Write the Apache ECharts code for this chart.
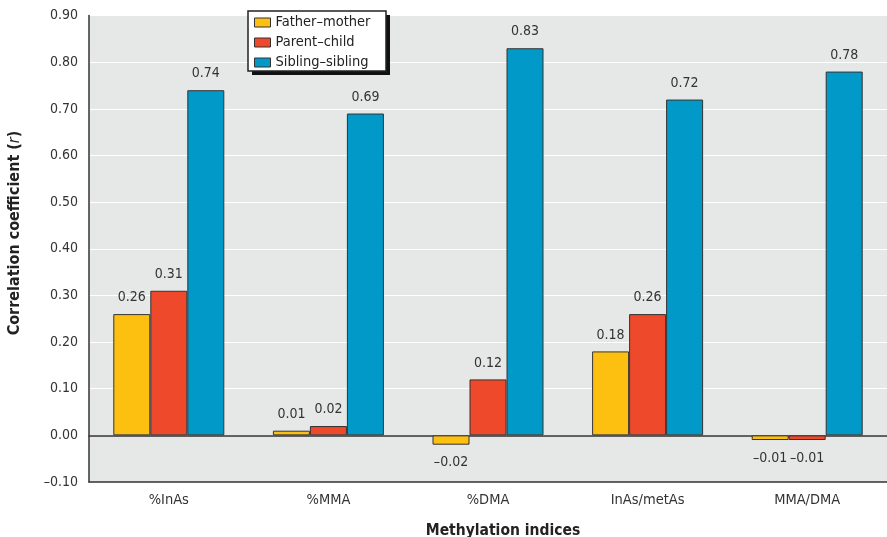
<!DOCTYPE html>
<html>
<head>
<meta charset="utf-8">
<script src="https://cdn.jsdelivr.net/npm/echarts@6/dist/echarts.min.js"></script>
<style>
html,body{margin:0;padding:0;background:#fff;}
#chart{width:887px;height:537px;}
</style>
</head>
<body>
<div id="chart"></div>
<script>
const categories = ['%InAs', '%MMA', '%DMA', 'InAs/metAs', 'MMA/DMA'];
const seriesNames = ['Father\u2013mother', 'Parent\u2013child', 'Sibling\u2013sibling'];
const fatherMother = [0.26, 0.01, -0.02, 0.18, -0.01];
const parentChild = [0.31, 0.02, 0.12, 0.26, -0.01];
const siblingSibling = [0.74, 0.69, 0.83, 0.72, 0.78];
const yTicks = { min: -0.1, max: 0.9, interval: 0.1 };
const yTitle = 'Correlation coefficient';
const xTitle = 'Methylation indices';

const colors = ['#FDC010', '#EE492A', '#0099C8'];
const FONT = '"DejaVu Sans Condensed", "Liberation Sans Narrow", sans-serif';
const fmt = v => (v < 0 ? '\u2013' + Math.abs(v).toFixed(2) : v.toFixed(2));

function buildData(arr) {
  return arr.map(v => ({
    value: v,
    label: v < 0 ? { position: 'bottom', distance: 11 } : { position: 'top', distance: 9.5 }
  }));
}

const chart = echarts.init(document.getElementById('chart'));
const allSeries = [fatherMother, parentChild, siblingSibling].map((arr, i) => ({
  name: seriesNames[i],
  type: 'bar',
  xAxisIndex: 0,
  yAxisIndex: 0,
  barWidth: 37,
  barGap: '0%',
  itemStyle: { color: colors[i], borderColor: '#333', borderWidth: 1 },
  label: {
    show: true,
    color: '#333',
    fontFamily: FONT,
    fontSize: 14,
    formatter: p => fmt(p.value)
  },
  data: buildData(arr)
}));

chart.setOption({
  backgroundColor: '#ffffff',
  animation: false,
  textStyle: { fontFamily: FONT },
  grid: {
    left: 89, right: -12, top: 15.6, bottom: 55,
    show: true, backgroundColor: '#E6E7E7', borderWidth: 0
  },
  legend: {
    orient: 'vertical',
    left: 248, top: 11,
    padding: [4, 17, 3, 6],
    itemGap: 5,
    itemWidth: 16, itemHeight: 9,
    icon: 'rect',
    backgroundColor: 'transparent',
    borderWidth: 0,
    textStyle: { fontFamily: FONT, fontSize: 14.5, color: '#222' },
    itemStyle: { borderColor: '#333', borderWidth: 1 },
    z: 10,
    data: seriesNames
  },
  xAxis: [
    {
      type: 'category',
      data: categories,
      position: 'bottom',
      axisLine: { show: true, onZero: false, lineStyle: { color: '#333', width: 1.5 } },
      axisTick: { show: false },
      axisLabel: { margin: 11, fontSize: 14.5, color: '#333', fontFamily: FONT },
      splitLine: { show: false }
    },
    {
      type: 'category',
      data: categories,
      position: 'top',
      axisLine: { show: true, onZero: true, lineStyle: { color: '#333', width: 1.5 } },
      axisTick: { show: false },
      axisLabel: { show: false },
      splitLine: { show: false }
    }
  ],
  yAxis: {
    type: 'value',
    min: yTicks.min, max: yTicks.max, interval: yTicks.interval,
    axisLine: { show: true, lineStyle: { color: '#333', width: 1.5 } },
    axisTick: { show: false },
    axisLabel: { margin: 11, fontSize: 14, color: '#333', fontFamily: FONT, formatter: v => fmt(v) },
    splitLine: { show: true, lineStyle: { color: '#ffffff', width: 1 } }
  },
  graphic: [
    {
      type: 'rect',
      z: 5,
      shape: { x: 252, y: 15, width: 138, height: 60 },
      style: { fill: '#111' }
    },
    {
      type: 'rect',
      z: 6,
      shape: { x: 248, y: 11, width: 138, height: 60 },
      style: { fill: '#ffffff', stroke: '#222', lineWidth: 1.5 }
    },
    {
      type: 'text',
      x: 15, y: 233,
      rotation: Math.PI / 2,
      style: {
        text: '{a|' + yTitle + ' (}{b|r}{a|)}',
        align: 'center', verticalAlign: 'middle',
        rich: {
          a: { fontFamily: FONT, fontSize: 16, fontWeight: 'bold', fill: '#222' },
          b: { fontFamily: FONT, fontSize: 16, fontStyle: 'italic', fill: '#222' }
        }
      }
    },
    {
      type: 'text',
      x: 503, y: 531,
      style: {
        text: xTitle,
        align: 'center', verticalAlign: 'middle',
        fontFamily: FONT, fontSize: 15.5, fontWeight: 'bold', fill: '#222'
      }
    }
  ],
  series: allSeries
});
</script>
</body>
</html>
